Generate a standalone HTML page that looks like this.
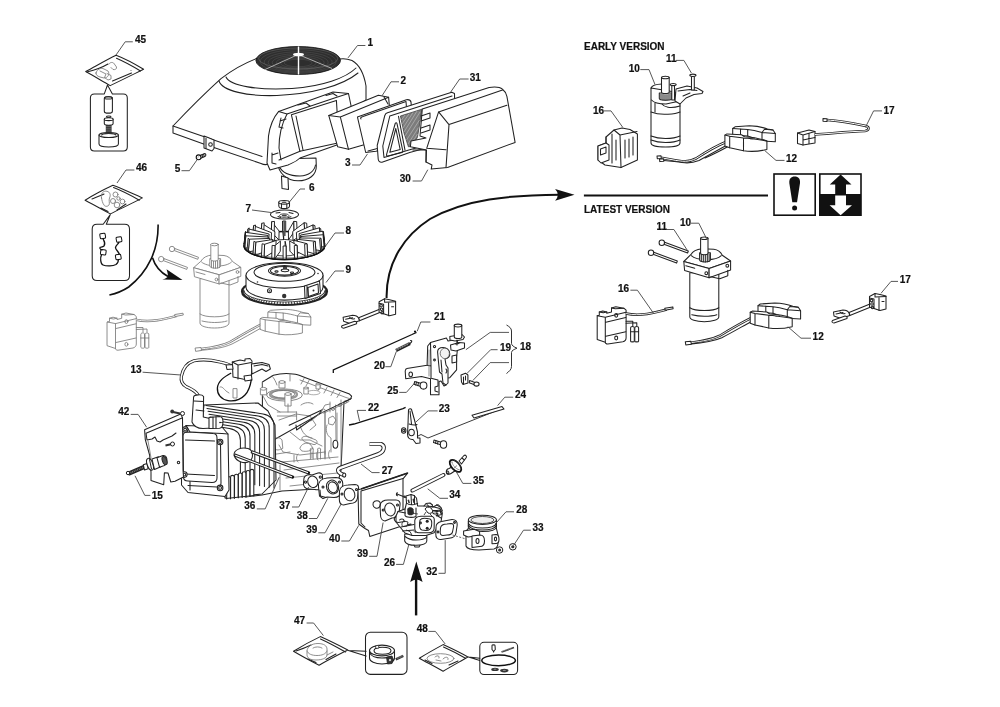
<!DOCTYPE html>
<html><head><meta charset="utf-8"><style>
html,body{margin:0;padding:0;background:#fff;width:1000px;height:707px;overflow:hidden}
svg{display:block;will-change:transform}
.lb text{font-family:"Liberation Sans",sans-serif;font-weight:bold;font-size:10px;fill:#111;stroke:#111;stroke-width:0.2}
.ld polyline{fill:none;stroke:#444;stroke-width:0.9}
.hd{font-family:"Liberation Sans",sans-serif;font-weight:bold;font-size:10.6px;fill:#111;stroke:#111;stroke-width:0.2}
.o{fill:none;stroke:#222;stroke-width:1.05;stroke-linejoin:round;stroke-linecap:round}
.w{fill:#fff;stroke:#222;stroke-width:1.05;stroke-linejoin:round;stroke-linecap:round}
.g{fill:none;stroke:#7a7a7a;stroke-width:0.85;stroke-linejoin:round;stroke-linecap:round}
.gw{fill:#fff;stroke:#7a7a7a;stroke-width:0.85;stroke-linejoin:round;stroke-linecap:round}
.k{fill:#111;stroke:none}
.tg{fill:none;stroke:#7a7a7a;stroke-width:2.4}
.to{fill:none;stroke:#222;stroke-width:2.5}
.tw{fill:none;stroke:#fff;stroke-width:0.9}
</style></head><body>
<svg width="1000" height="707" viewBox="0 0 1000 707">
<g id="arrows">
<path d="M158.1,224.6 C158.5,250 148,272 128.7,287 C122,291.5 116,293.5 109.4,295" fill="none" stroke="#111" stroke-width="1.6"/>
<path d="M152.5,257.7 C155,266 160,272 168,276.5" fill="none" stroke="#111" stroke-width="1.6"/>
<path d="M182.5,280 L166.5,269.2 Q168.5,275 167.5,277 Q165,279 162.3,279.5 Z" fill="#111"/>
<path d="M386.6,298 C386,262 405,235 430,219 C465,199 510,195 560,194.7" fill="none" stroke="#111" stroke-width="2"/>
<path d="M574.5,194.7 L555.1,189 Q560.5,194.7 555.1,200.8 Z" fill="#111"/>
<line x1="583.9" y1="195.5" x2="768" y2="195.5" stroke="#111" stroke-width="1.8"/>
<line x1="416.1" y1="615.4" x2="416.1" y2="575" stroke="#111" stroke-width="2.4"/>
<path d="M416.3,561.5 L410.2,582 Q416.3,577 422.6,582 Z" fill="#111"/>
</g>
<g id="warn">
<rect x="774" y="174" width="41.2" height="41.2" fill="#fff" stroke="#111" stroke-width="1.6"/>
<path d="M794.7,176.6 C798.5,176.6 800.3,179 800,183 L797,202.3 L792.3,202.3 L789.3,183 C789,179 791,176.6 794.7,176.6 Z" fill="#111"/>
<circle cx="794.6" cy="208" r="2.5" fill="#111"/>
<rect x="819.8" y="174" width="41.2" height="41.2" fill="#fff" stroke="#111" stroke-width="1.6"/>
<rect x="819.8" y="194" width="41.2" height="21.2" fill="#111"/>
<path d="M840.6,174.5 L851.5,184.5 L846,184.5 L846,194.5 L835.2,194.5 L835.2,184.5 L829.8,184.5 Z" fill="#111"/>
<path d="M835.2,195.4 L846,195.4 L846,205.3 L852,205.3 L840.6,215.3 L829.6,205.3 L835.2,205.3 Z" fill="#fff"/>
</g>
<text class="hd" x="584" y="49.5" textLength="80.6" lengthAdjust="spacingAndGlyphs">EARLY VERSION</text>
<text class="hd" x="584" y="213.3" textLength="86" lengthAdjust="spacingAndGlyphs">LATEST VERSION</text>
<g id="bag45">
<path class="w" d="M85.7,71.5 C96,66 106,60 116.1,55.2 C126,59 135,64 143.6,69.3 C132,75 121,80.5 110.2,85.6 C102,81 94,76 85.7,71.5 Z"/>
<path class="o" d="M116.5,58.3 C125,62 133,66.5 140.5,71"/>
<path class="o" d="M87,72 C95,70 103,67 108,64" stroke-width="0.6"/>
<path class="g" d="M96,73 C97,69 101,67.5 104,69 L108,71 C110,74 108,78 104,78 L100,77 C97,76 96,75 96,73 Z"/>
<path class="g" d="M100,71 L106,74 L104.5,77.5 L108,80 L111,79 L111,75.5 L107,73.5"/>
<path class="g" d="M109,64 C110,62 113,62 114,63.5 L116.5,67 C117,69 115,70 113,69.5 L111,67.5"/>
<path class="o" d="M112.5,81 L131.5,73" stroke-width="0.5"/>
<circle cx="131" cy="70.5" r="0.5" fill="#444"/>
<path class="o" d="M104.3,93.9 L107.5,85 L112.4,93.9 L123.3,93.9 Q127.3,93.9 127.3,97.9 L127.3,146.9 Q127.3,150.9 123.3,150.9 L94.4,150.9 Q90.4,150.9 90.4,146.9 L90.4,97.9 Q90.4,93.9 94.4,93.9 Z"/>
<rect class="w" x="104.3" y="96.8" width="8.1" height="16.3" rx="2" ry="2"/>
<ellipse class="o" cx="108.4" cy="97.9" rx="3.9" ry="1.1"/>
<ellipse class="o" cx="108.7" cy="116.8" rx="2.3" ry="0.8"/>
<path class="w" d="M104.3,119.2 L104.3,123.5 C104.3,124.5 106,125.2 108.7,125.2 C111.5,125.2 113.1,124.5 113.1,123.5 L113.1,119.2 Z"/>
<ellipse class="w" cx="108.7" cy="119.2" rx="4.4" ry="1.4"/>
<rect x="105.8" y="125" width="5.8" height="8" fill="#333"/>
<path d="M105.8,126.5 L111.6,126.5 M105.8,128.3 L111.6,128.3 M105.8,130.1 L111.6,130.1 M105.8,131.9 L111.6,131.9" stroke="#aaa" stroke-width="0.4"/>
<path class="w" d="M99,135 L99,144 C99,146 103.5,147 108.7,147 C114,147 118.4,146 118.4,144 L118.4,135 Z"/>
<ellipse class="w" cx="108.7" cy="135" rx="9.7" ry="2.6"/>
<path d="M101.5,135.5 C101.5,134 104,133.3 108.7,133.3 C113.5,133.3 116,134 116,135.5" fill="none" stroke="#333" stroke-width="1.2"/>
</g>
<g id="bag46">
<path class="w" d="M85.1,200.2 C95,194 104,189.5 112.9,185.3 C123,189 133,194 142.4,197.9 C132,203.5 121,208.5 110.3,213.9 C101,209 93,204.5 85.1,200.2 Z"/>
<path class="o" d="M113.5,187.6 C122.5,191 131,195.5 139.3,200.3"/>
<path class="o" d="M92,199 C97,197 101,195.5 104,194" stroke-width="0.6"/>
<path class="o" d="M101,208 L108,211.5 M117,210 L126,204" stroke-width="0.6"/>
<g class="g">
<path d="M101.5,198 C100.5,192.5 104,190.5 107,191.3 C110,192 111,195 109.5,198 C108.5,200.5 110,203 109,205 C107.5,207 104.5,206.5 104,205 C102.5,203 102,200.5 101.5,198 Z"/>
<circle cx="115.5" cy="194.5" r="2.5"/><circle cx="113" cy="201" r="2.5"/><circle cx="117" cy="205" r="2.8"/><circle cx="122.5" cy="201.5" r="2.4"/><circle cx="118.5" cy="198.5" r="1.7"/>
</g>
<path class="o" d="M103.2,224.2 L110.3,214.6 L106.3,224.2 L124.7,224.2 Q129.5,224.2 129.5,229 L129.5,275.7 Q129.5,280.5 124.7,280.5 L97,280.5 Q92.2,280.5 92.2,275.7 L92.2,229 Q92.2,224.2 97,224.2 Z" stroke-width="0.9"/>
<g fill="#fff" stroke="#111" stroke-width="1">
<rect x="100" y="233.5" width="5.4" height="5" rx="1" transform="rotate(-10 102.7 236)"/>
<rect x="116.3" y="237" width="5.4" height="5" rx="1" transform="rotate(-10 119 239.5)"/>
<rect x="100.6" y="249.8" width="5.4" height="5" rx="1" transform="rotate(8 103.3 252.3)"/>
<rect x="115.6" y="254.5" width="5.4" height="5" rx="1" transform="rotate(-10 118.3 257)"/>
</g>
<path d="M103,238.8 C104,241 106,243 104,246 C102,248 99.5,246 100,248.5 C100.5,249.5 101.5,249.8 102.5,250" fill="none" stroke="#111" stroke-width="1.3"/>
<path d="M119,242 C118.5,244 116,245 115.5,247.5 C115.5,250 118,250.5 119.5,254.5" fill="none" stroke="#111" stroke-width="1.3"/>
<path d="M101.5,254.8 C100,258 100.5,264 103,265 C107,266.5 113,266 116,264.5 C118,263 118.5,261 118.2,259.5" fill="none" stroke="#111" stroke-width="1.3"/>

</g>
<g id="leftstarter" class="gs">
<!-- bolts -->
<path class="gw" d="M173.5,248 L198.5,257.3 L197.8,259.3 L172.8,250 Z"/>
<circle class="gw" cx="172" cy="249" r="2.7"/>
<path class="gw" d="M162.7,258.1 L187.5,267.4 L186.8,269.4 L162,260.1 Z"/>
<circle class="gw" cx="161.2" cy="259.1" r="2.7"/>
<!-- body -->
<path class="gw" d="M200,279 L200,323 C200,326 206,328 214.5,328 C223,328 229,326 229,323 L229,279 Z"/>
<path class="g" d="M200,314 C203,316 208,316.8 214.5,316.8 C221,316.8 226,316 229,314"/>
<path class="g" d="M202,321 C206,322 211,322.5 214.5,322.5 C219,322.5 224,322 227,321"/>
<!-- flange -->
<path class="gw" d="M201,261 C203,257.5 207,255.5 212,255 L224,255.5 C228,256 231,258.5 232.5,261.5 L240.8,267.3 L219.3,274.8 L194,267.8 Z"/>
<path class="g" d="M201.5,262 C204,264.5 210,266 217,266 C224,266 229,264.5 231.5,262"/>
<path class="gw" d="M194,267.8 L219.3,274.8 L219.3,284 L194.8,276.8 Z"/>
<path class="gw" d="M219.3,274.8 L240.8,267.3 L240.8,276.3 L219.3,284 Z"/>
<circle class="g" cx="216.5" cy="279.5" r="1.4"/><circle class="g" cx="237.5" cy="272" r="1.4"/>
<path class="g" d="M196,272 L205,274.5 M221,283 L230,285 L238,282 L238,276.5"/>
<!-- gear & shaft -->
<path class="gw" d="M209.8,259 L209.8,266 C209.8,267.5 212.5,268.2 215.2,268.2 C218,268.2 220.6,267.5 220.6,266 L220.6,259 Z"/>
<path class="g" d="M211.5,260 L211.5,267.5 M213.5,260.5 L213.5,268 M215.5,260.5 L215.5,268.2 M217.5,260.5 L217.5,268 M219.3,260 L219.3,267.5"/>
<path class="gw" d="M210.8,244.5 L210.8,259.5 C210.8,260.5 212.5,261 214.5,261 C216.5,261 218.2,260.5 218.2,259.5 L218.2,244.5 Z"/>
<ellipse class="gw" cx="214.5" cy="244.5" rx="3.7" ry="1.3"/>
</g>
<g id="leftreg">
<path class="gw" d="M107.4,322 L109.5,321.5 L109.5,318.2 L113,317.2 L117,318.2 L117,319.5 L121.7,318.3 L121.7,314.2 L126,313 L134,314.5 L136.3,316.5 L136.3,344 C136.3,346 135,347.5 133,348 L118,350.2 C116.5,350.4 115.5,349.5 115.5,348.5 L107.4,345.8 Z"/>
<path class="g" d="M115.5,323.6 L115.5,348.5 M107.4,322 L115.5,323.6 L136.3,318.6 M116,328.5 L136,323.8 M116,342.5 L136,338 M109.5,318.2 L113.5,319 L117,318.2 M121.7,314.2 L125.5,315 L134,314.5"/>
<ellipse class="g" cx="126.4" cy="321.6" rx="1.5" ry="1.9"/><ellipse class="g" cx="126.4" cy="344.3" rx="1.5" ry="1.9"/>
<path class="tg" d="M136.3,319.8 C150,323 165,319 177,315.8"/><path class="tw" d="M136.3,319.8 C150,323 165,319 177,315.8"/>
<path class="gw" d="M175,314.5 L183,313.2 L183.3,315 L175.3,316.5 Z"/>
<path class="g" d="M136.3,327.5 L143,327.5 L143,332 M136.3,329.5 L147,329 L147,332"/>
<path class="gw" d="M140.8,334 C140.8,332.5 144.5,332.5 144.5,334 L144.5,347.5 C144.5,348.5 140.8,348.5 140.8,347.5 Z"/>
<path class="gw" d="M145,334 C145,332.5 148.8,332.5 148.8,334 L148.8,347.5 C148.8,348.5 145,348.5 145,347.5 Z"/>
<path class="g" d="M140.8,338 L144.5,338 M145,338 L148.8,338"/>
</g>
<g id="leftign">
<path class="tg" d="M262,324 C250,330 240,336 230,342 C220,347 208,348 197,349.5"/><path class="tw" d="M262,324 C250,330 240,336 230,342 C220,347 208,348 197,349.5"/>
<path class="g" d="M263,327 C252,333 242,339 232,344 C222,348.5 210,349.5 199,350.5"/>
<path class="gw" d="M195.5,348 L201,347.5 L201.5,350.5 L196,351.3 Z"/>
<path class="gw" d="M268.2,312 L270.5,310.3 L285,309.3 C292,309.5 299,311 303,312.5 L308.5,313.5 L310.8,317 L310.8,325.2 L297.5,324.5 L283.2,319.5 L268.2,318.5 Z"/>
<path class="g" d="M268.2,312 L283.2,313 L283.2,319.5 M283.2,313 C288,313.5 294,315 297.5,316 L297.5,324.5 M297.5,316 L310.8,317 M297.5,316 L300,312.8 L308.5,313.5 M276,312.5 L276,318.5"/>
<path class="gw" d="M260.4,318.6 L262.5,317.4 L277,318.3 L280,320.3 C287,320.5 296,322 302.4,324.5 L302.4,333 C296,334.5 287,335.5 279,334.2 L265.2,331.2 L260.4,329.5 Z"/>
<path class="g" d="M260.4,318.6 L265.2,319.8 L279,321.5 L279,334.2 M265.2,319.8 L265.2,331.2 M279,321.5 C287,322 296,323.5 302.4,324.5 M286,322.5 L290,322.3"/>
</g>
<g id="housing">
<path class="w" d="M173,126 L173,133 L205,144.5 L261,163.5 Q266,166 271,163 L366,100 L366,86 C364,74 360,65 352,60.5 C348,59 344,58.5 340,59 L256.5,58.5 C245,63 232,70 221,78.6 C205,93 190,108 173,126 Z"/>
<path class="o" d="M173,126 L205,137 L262,156.5"/>
<path class="o" d="M219,81 C222,91 248,96.5 277,95.5 C312,94 342,86 358,73"/>
<path class="o" d="M226,77 C230,86 258,90.5 292,88.5 C322,86.5 346,78 356,68"/>
<ellipse cx="298.2" cy="60.5" rx="42.3" ry="14" fill="#2e2e2e" stroke="#111" stroke-width="0.8"/>
<g stroke="#5a5a5a" stroke-width="0.45" fill="none">
<ellipse cx="298.2" cy="61.5" rx="38" ry="11.8"/>
<ellipse cx="298.2" cy="62" rx="34" ry="10.2"/>
<ellipse cx="298.2" cy="62.4" rx="30" ry="8.8"/>
<ellipse cx="298.2" cy="62.6" rx="26" ry="7.4"/>
<ellipse cx="298.2" cy="62.8" rx="22" ry="6.2"/>
<ellipse cx="298.2" cy="63" rx="18" ry="5"/>
<ellipse cx="298.2" cy="63" rx="14" ry="3.8"/>
</g>
<g stroke="#777" stroke-width="0.5" fill="none">
<ellipse cx="298.2" cy="58.5" rx="39.5" ry="10.5"/>
</g>
<path d="M298.2,54.5 L265,69.5 M298.2,54.5 L332,68.5" stroke="#ddd" stroke-width="0.7"/>
<line x1="298.5" y1="46.5" x2="298.5" y2="74.5" stroke="#fff" stroke-width="1.4"/>
<ellipse cx="298.5" cy="54.5" rx="5.5" ry="1.8" fill="#fff"/>
<path class="w" d="M204,136 L204,148 L212,151 L214,148.5 L214,140 L208,137.6 Z"/>
<path class="o" d="M206,138 L206,148.5"/>
<circle cx="210.5" cy="144.5" r="1.8" class="o"/>
</g>
<g id="filterbase">
<!-- base plate ellipse -->
<path class="w" d="M278,163 C278,173 287,180.5 298,180.8 C309,180.8 316.5,175 316.3,166 L316,158 L280,159 Z"/>
<path class="o" d="M279,166 C282,172.5 290,176 300,176 C309,175.5 314.5,171 315.5,165"/>
<!-- hook below -->
<path class="w" d="M281.5,176 L282,188.5 L288.5,189.5 L288,178 Z"/>
<!-- frame outer -->
<path class="w" d="M278.7,111.4 L333,92 L348.5,93.6 L351,105.5 L351,140 L300,158 C296,162 292,163 288,165 L270,170 L267,163 L268.5,136 C270,125 273,118 278.7,111.4 Z"/>
<path class="o" d="M278.7,111.4 L287,114 L336,97.6 L348.5,93.6"/>
<path class="o" d="M287,114 C281,125 279,135 279,148 L281,160"/>
<path class="w" d="M291.4,114.8 L336.4,100.4 L339,142.8 L299.9,151.3 Z"/>
<path class="o" d="M296,116 L303,150"/>
<path class="o" d="M279,160 L300,151.3 M339,142.8 L351,139"/>
<!-- clips -->
<path class="o" d="M281,118 L279,127 L283,128 M280,121 L286,119"/>
<path class="o" d="M272,153 L272,163 L276,164 M272,155 L278,153"/>
<path class="o" d="M298,105 L306,103 L310,106 M326,95.5 L333,93.5 L337,96"/>
</g>
<g id="block2">
<path class="w" d="M328.8,115.6 L378.4,95.3 L388.6,97.2 L392,136 L363.2,144.9 L348.5,149.3 L337.7,146.8 Z"/>
<path class="o" d="M328.8,115.6 L340.3,116.9 L388.6,97.2 M340.3,116.9 L348.5,149.3"/>
<path class="o" d="M384,97 L388,104"/>
</g>
<g id="panel3">
<path class="w" d="M357.4,116.9 L406.4,99.7 C409,99.3 410.5,100 411,102 L414,142 L375.9,151.2 L365.7,152.5 Z"/>
<path class="o" d="M361,119 C360,118 361,117 363,116.5 L406,101.5 L409,140 L368,151"/>
</g>
<g id="frame31">
<path class="w" d="M387.5,112.8 L451.7,92.2 L454.5,93.5 L455,140 L409.7,152.5 L382,162.2 C379.5,162.5 378.3,161 378.2,159 L377.2,145.5 L384.8,115.5 C385.3,114 386.2,113.2 387.5,112.8 Z"/>
<path class="o" d="M389.8,116 L452,96 M389.8,116 L382.8,146 L384,157.5 L408,150.3 L453,137.5"/>
<path class="o" d="M395.2,123.5 C395.8,122.5 396.6,122.5 397,123.6 L402.8,150.8 C403,152 402.2,152.6 401,152.8 L388,155.9 C386.8,156.1 386.3,155.3 386.6,154.3 Z"/>
<path class="o" d="M395.8,128.5 L400.2,149.6 L389.8,152.3 Z"/>
<path class="o" d="M398.5,116.3 L405,150.2"/>
<path d="M400.4,116 L421.9,109.2 L420.5,118 L419.5,125 L418.5,131 L417.5,137 L414.5,143 L411,146.5 L408.4,146.8 L404,133 Z" fill="#7c7c7c" stroke="#333" stroke-width="0.7"/>
<g stroke="#d0d0d0" stroke-width="0.5">
<path d="M401.5,120 L405,115 M402,124 L409,113.8 M403,128 L413,112.5 M404,132 L417,111 M405,136 L420,112 M406.5,140 L419.5,120 M408,144 L418.5,127.5 M410.5,145 L417.5,134"/>
</g>
</g>
<g id="cover30">
<path class="w" d="M422.3,109 L489.1,87.4 C495,86.5 500,87 502.5,89.2 C505,91 506,93 506.9,96.3 L515.1,142.4 L447.5,167.6 L431.2,169.1 L432,165 L426,162 L426.5,150 L410.4,146.8 L411,141 L426,138 L420,136 Z"/>
<path class="o" d="M438.6,111.9 L502.5,90 M449,124.6 L506.9,105.2 M438.6,111.9 L449,124.6 L446,167.6 M438.6,111.9 L426.7,148.3 L446,149.8"/>
<path class="o" d="M421,116 L430,113 L430,118 L421,121 M421,128 L430,125 L430,130 L421,133"/>
<path class="o" d="M413,150 L426,150 L426,162"/>
</g>
<g id="screw5">
<path class="w" d="M200,155.5 L204.8,153.6 C206,153.6 206.2,155.6 205.2,156.3 L200.8,158.2 Z"/>
<path class="o" d="M202,154.8 L202.8,157.2 M203.6,154.2 L204.3,156.6" stroke-width="0.6"/>
<circle cx="198.6" cy="157.3" r="2.4" fill="#fff" stroke="#111" stroke-width="1.1"/>
<path d="M197.8,157.8 L199,156.2" stroke="#666" stroke-width="0.6"/>
</g>
<g id="nut6">
<path class="w" d="M278.8,202.5 L278.8,206 C279,208 282,208.6 284,208.6 C287,208.6 289.5,208 289.5,206 L289.5,202.5 Z"/>
<ellipse class="w" cx="284.1" cy="202.3" rx="5.4" ry="1.9"/>
<ellipse cx="284.1" cy="202.3" rx="2.5" ry="0.9" fill="#555"/>
<path class="o" d="M281.5,203.5 L281.5,208 M286.8,203.8 L286.8,208.2"/>
</g>
<g id="washer7"><ellipse class="w" cx="284.5" cy="214.5" rx="14" ry="4.6"/>
<ellipse cx="284.2" cy="215.6" rx="4.7" ry="1.8" fill="#fff" stroke="#222" stroke-width="0.8"/>
<ellipse cx="284.3" cy="215.5" rx="2.6" ry="1" fill="#444"/>
<path class="o" d="M276,213 L280,212.5 M289,212.5 L293,213.5 M278,216.5 L280.5,217.5 M288,217.6 L291,216.8"/></g>
<g id="fan8" stroke-width="1">
<ellipse cx="284.4" cy="245.5" rx="40.5" ry="14.0" fill="#fff" stroke="#111" stroke-width="1.3"/>
<ellipse cx="284.4" cy="246.0" rx="17" ry="6.5" fill="#fff" stroke="#222" stroke-width="0.9"/>
<path d="M267.4,246.0 L267.4,249.5 A17,6.5 0 0 0 301.4,249.5 L301.4,246.0" fill="#fff" stroke="#222" stroke-width="0.8"/>
<polygon points="283.7,239.6 282.7,231.5 282.7,221.0 283.7,230.8" fill="#fff" stroke="#111" stroke-width="0.9" stroke-linejoin="round"/>
<polygon points="282.7,231.5 285.7,231.5 285.7,221.0 282.7,221.0" fill="#fff" stroke="#111" stroke-width="0.9" stroke-linejoin="round"/>
<polygon points="288.5,239.8 294.1,231.9 293.8,221.4 288.4,230.9" fill="#fff" stroke="#111" stroke-width="0.9" stroke-linejoin="round"/>
<polygon points="294.1,231.9 297.1,232.2 296.7,221.6 293.8,221.4" fill="#fff" stroke="#111" stroke-width="0.9" stroke-linejoin="round"/>
<polygon points="278.9,239.9 271.3,232.2 271.7,221.7 279.1,231.0" fill="#fff" stroke="#111" stroke-width="0.9" stroke-linejoin="round"/>
<polygon points="271.3,232.2 274.2,231.9 274.5,221.4 271.7,221.7" fill="#fff" stroke="#111" stroke-width="0.9" stroke-linejoin="round"/>
<polygon points="293.0,240.4 304.8,233.4 304.2,222.7 292.7,231.5" fill="#fff" stroke="#111" stroke-width="0.9" stroke-linejoin="round"/>
<polygon points="304.8,233.4 307.4,234.0 306.7,223.2 304.2,222.7" fill="#fff" stroke="#111" stroke-width="0.9" stroke-linejoin="round"/>
<polygon points="274.6,240.7 261.1,234.1 261.8,223.3 274.9,231.7" fill="#fff" stroke="#111" stroke-width="0.9" stroke-linejoin="round"/>
<polygon points="261.1,234.1 263.6,233.5 264.2,222.8 261.8,223.3" fill="#fff" stroke="#111" stroke-width="0.9" stroke-linejoin="round"/>
<polygon points="296.8,241.5 313.8,235.9 313.0,224.9 296.4,232.4" fill="#fff" stroke="#111" stroke-width="0.9" stroke-linejoin="round"/>
<polygon points="313.8,235.9 315.8,236.7 314.9,225.6 313.0,224.9" fill="#fff" stroke="#111" stroke-width="0.9" stroke-linejoin="round"/>
<polygon points="271.1,241.8 252.7,236.8 253.6,225.7 271.5,232.7" fill="#fff" stroke="#111" stroke-width="0.9" stroke-linejoin="round"/>
<polygon points="252.7,236.8 254.7,236.0 255.5,225.0 253.6,225.7" fill="#fff" stroke="#111" stroke-width="0.9" stroke-linejoin="round"/>
<polygon points="299.6,242.8 320.5,239.1 319.4,227.8 299.1,233.6" fill="#fff" stroke="#111" stroke-width="0.9" stroke-linejoin="round"/>
<polygon points="320.5,239.1 321.8,240.1 320.7,228.7 319.4,227.8" fill="#fff" stroke="#111" stroke-width="0.9" stroke-linejoin="round"/>
<polygon points="268.6,243.3 246.9,240.2 248.0,228.8 269.1,234.0" fill="#fff" stroke="#111" stroke-width="0.9" stroke-linejoin="round"/>
<polygon points="246.9,240.2 248.1,239.3 249.2,227.9 248.0,228.8" fill="#fff" stroke="#111" stroke-width="0.9" stroke-linejoin="round"/>
<polygon points="301.1,244.4 324.2,242.9 323.0,231.2 300.6,235.0" fill="#fff" stroke="#111" stroke-width="0.9" stroke-linejoin="round"/>
<polygon points="324.2,242.9 324.7,244.0 323.5,232.1 323.0,231.2" fill="#fff" stroke="#111" stroke-width="0.9" stroke-linejoin="round"/>
<polygon points="267.5,244.9 244.1,244.1 245.3,232.3 268.0,235.5" fill="#fff" stroke="#111" stroke-width="0.9" stroke-linejoin="round"/>
<polygon points="244.1,244.1 244.5,243.1 245.7,231.3 245.3,232.3" fill="#fff" stroke="#111" stroke-width="0.9" stroke-linejoin="round"/>
<polygon points="301.3,246.1 324.7,246.9 323.5,234.7 300.8,236.5" fill="#fff" stroke="#111" stroke-width="0.9" stroke-linejoin="round"/>
<polygon points="324.7,246.9 324.3,247.9 323.1,235.7 323.5,234.7" fill="#fff" stroke="#111" stroke-width="0.9" stroke-linejoin="round"/>
<polygon points="267.7,246.6 244.6,248.1 245.8,235.8 268.2,237.0" fill="#fff" stroke="#111" stroke-width="0.9" stroke-linejoin="round"/>
<polygon points="244.6,248.1 244.1,247.0 245.3,234.9 245.8,235.8" fill="#fff" stroke="#111" stroke-width="0.9" stroke-linejoin="round"/>
<polygon points="300.2,247.7 321.9,250.8 320.8,238.2 299.7,238.0" fill="#fff" stroke="#111" stroke-width="0.9" stroke-linejoin="round"/>
<polygon points="321.9,250.8 320.7,251.7 319.6,239.1 320.8,238.2" fill="#fff" stroke="#111" stroke-width="0.9" stroke-linejoin="round"/>
<polygon points="269.2,248.2 248.3,251.9 249.4,239.2 269.7,238.4" fill="#fff" stroke="#111" stroke-width="0.9" stroke-linejoin="round"/>
<polygon points="248.3,251.9 247.0,250.9 248.1,238.3 249.4,239.2" fill="#fff" stroke="#111" stroke-width="0.9" stroke-linejoin="round"/>
<polygon points="297.7,249.2 316.1,254.2 315.2,241.3 297.3,239.3" fill="#fff" stroke="#111" stroke-width="0.9" stroke-linejoin="round"/>
<polygon points="316.1,254.2 314.1,255.0 313.3,242.0 315.2,241.3" fill="#fff" stroke="#111" stroke-width="0.9" stroke-linejoin="round"/>
<polygon points="272.0,249.5 255.0,255.1 255.8,242.1 272.4,239.6" fill="#fff" stroke="#111" stroke-width="0.9" stroke-linejoin="round"/>
<polygon points="255.0,255.1 253.0,254.3 253.9,241.4 255.8,242.1" fill="#fff" stroke="#111" stroke-width="0.9" stroke-linejoin="round"/>
<polygon points="294.2,250.3 307.7,256.9 307.0,243.7 293.9,240.3" fill="#fff" stroke="#111" stroke-width="0.9" stroke-linejoin="round"/>
<polygon points="307.7,256.9 305.2,257.5 304.6,244.2 307.0,243.7" fill="#fff" stroke="#111" stroke-width="0.9" stroke-linejoin="round"/>
<polygon points="275.8,250.6 264.0,257.6 264.6,244.3 276.1,240.5" fill="#fff" stroke="#111" stroke-width="0.9" stroke-linejoin="round"/>
<polygon points="264.0,257.6 261.4,257.0 262.1,243.8 264.6,244.3" fill="#fff" stroke="#111" stroke-width="0.9" stroke-linejoin="round"/>
<polygon points="289.9,251.1 297.5,258.8 297.1,245.3 289.7,241.0" fill="#fff" stroke="#111" stroke-width="0.9" stroke-linejoin="round"/>
<polygon points="297.5,258.8 294.6,259.1 294.3,245.6 297.1,245.3" fill="#fff" stroke="#111" stroke-width="0.9" stroke-linejoin="round"/>
<polygon points="280.3,251.2 274.7,259.1 275.0,245.6 280.4,241.1" fill="#fff" stroke="#111" stroke-width="0.9" stroke-linejoin="round"/>
<polygon points="274.7,259.1 271.7,258.8 272.1,245.4 275.0,245.6" fill="#fff" stroke="#111" stroke-width="0.9" stroke-linejoin="round"/>
<polygon points="285.1,251.4 286.1,259.5 286.1,246.0 285.1,241.2" fill="#fff" stroke="#111" stroke-width="0.9" stroke-linejoin="round"/>
<polygon points="286.1,259.5 283.1,259.5 283.1,246.0 286.1,246.0" fill="#fff" stroke="#111" stroke-width="0.9" stroke-linejoin="round"/>
<path d="M243.89999999999998,245.5 A40.5,14.0 0 0 0 324.9,245.5" fill="none" stroke="#111" stroke-width="1.4"/>
<path d="M244.49999999999997,244.3 A39.9,13.7 0 0 0 324.29999999999995,244.3" fill="none" stroke="#333" stroke-width="0.6"/>
<path d="M284.5,221 L284.5,236" stroke="#555" stroke-width="2.2"/>
</g>
<g id="fly9">
<ellipse cx="284.5" cy="291.5" rx="42.5" ry="13.5" fill="#fff" stroke="#222" stroke-width="2.2"/>
<path d="M327.0,291.5 L324.8,290.3 M326.9,292.4 L324.7,291.1 M326.6,293.4 L324.4,291.9 M326.1,294.3 L323.9,292.7 M325.4,295.2 L323.2,293.5 M324.4,296.1 L322.4,294.3 M323.3,297.0 L321.3,295.1 M322.0,297.8 L320.1,295.8 M320.5,298.7 L318.7,296.5 M318.9,299.4 L317.1,297.2 M317.1,300.2 L315.4,297.8 M315.1,300.9 L313.5,298.4 M312.9,301.5 L311.5,299.0 M310.7,302.1 L309.3,299.5 M308.3,302.7 L307.0,300.0 M305.8,303.2 L304.6,300.4 M303.1,303.6 L302.2,300.8 M300.4,304.0 L299.6,301.1 M297.6,304.3 L297.0,301.4 M294.8,304.6 L294.2,301.7 M291.9,304.8 L291.5,301.8 M288.9,304.9 L288.7,301.9 M286.0,305.0 L285.9,302.0 M283.0,305.0 L283.1,302.0 M280.1,304.9 L280.3,301.9 M277.1,304.8 L277.5,301.8 M274.2,304.6 L274.8,301.7 M271.4,304.3 L272.0,301.4 M268.6,304.0 L269.4,301.1 M265.9,303.6 L266.8,300.8 M263.2,303.2 L264.4,300.4 M260.7,302.7 L262.0,300.0 M258.3,302.1 L259.7,299.5 M256.1,301.5 L257.5,299.0 M253.9,300.9 L255.5,298.4 M251.9,300.2 L253.6,297.8 M250.1,299.4 L251.9,297.2 M248.5,298.7 L250.3,296.5 M247.0,297.8 L248.9,295.8 M245.7,297.0 L247.7,295.1 M244.6,296.1 L246.6,294.3 M243.6,295.2 L245.8,293.5 M242.9,294.3 L245.1,292.7 M242.4,293.4 L244.6,291.9 M242.1,292.4 L244.3,291.1 M242.0,291.5 L244.2,290.3" stroke="#222" stroke-width="0.9" fill="none"/>
<path d="M244.0,290.5 A40.5,11.5 0 0 0 325.0,290.5" stroke="#222" stroke-width="0.8" fill="none"/>
<path class="w" d="M246.0,275.3 L246.0,287.3 A38.5,12.8 0 0 0 323.0,287.3 L323.0,275.3 Z"/>
<ellipse class="w" cx="284.5" cy="275.3" rx="38.5" ry="12.8"/>
<ellipse class="o" cx="284.5" cy="272.3" rx="30.5" ry="9"/>
<ellipse class="o" cx="284.5" cy="270.8" rx="16" ry="5.3"/>
<ellipse class="o" cx="284.5" cy="270.8" rx="14" ry="4.3"/>
<ellipse class="o" cx="285.0" cy="270.3" rx="3.8" ry="1.4"/>
<ellipse class="o" cx="276.5" cy="271.5" rx="1.6" ry="0.8"/>
<ellipse class="o" cx="292" cy="272.8" rx="1.6" ry="0.8"/>
<ellipse class="o" cx="285" cy="268" rx="1.6" ry="0.8"/>
<circle cx="257.5" cy="282" r="0.8" fill="#333"/><circle cx="318" cy="273.5" r="0.8" fill="#333"/>
<path class="w" d="M304.5,286 L319.5,281 L320.5,293.5 L305,298.5 Z"/>
<path class="o" d="M307,286 L307,297.5 M308,287.5 L318,284 L318.5,293 L308.5,296.5 Z"/>
<circle cx="313.5" cy="290.5" r="1" fill="#222"/>
<circle cx="269.5" cy="290.8" r="2" class="o"/><circle cx="269.5" cy="290.8" r="0.9" fill="#555"/>
<circle cx="284.2" cy="296" r="2.2" fill="#333"/>
</g><g id="early">
<!-- starter body -->
<path class="w" d="M651,88 L651,143 C651,145.5 657,147 665.5,147 C674,147 680,145.5 680,143 L680,100 L675,92 Z"/>
<path class="o" d="M651,88 C652,85.5 656,84.2 662,84 M651.5,100 C654,103 660,104 666,104 L680,101"/>
<path class="o" d="M651,112 C656,114 664,114.5 668,114.2 C673,114 677,113.5 680,112"/>
<path class="o" d="M651,136 C656,138 662,138.5 665.5,138.5 C671,138.5 676,138 680,136"/>
<path class="o" d="M651,140 C656,142 662,142.5 665.5,142.5 C671,142.5 676,142 680,140"/>
<path class="o" d="M655,103 L655,112 M662,104 C664,107 670,109 680,106"/>
<!-- bracket flange -->
<path class="w" d="M676,89 L687,86 L697,88 L703,91.5 L702,93.5 L694,94.5 L686,98 L680,104 L675,101 Z"/>
<path class="o" d="M678,91 L690,89.5 L697,90.5 M683,96 L690,93"/>
<!-- gear -->
<path class="w" d="M659.3,93 L659.3,98.5 C659.3,99.6 662,100.2 665.6,100.2 C669,100.2 672,99.6 672,98.5 L672,93 Z"/>
<path class="o" d="M661,94 L661,99.5 M663,94.3 L663,100 M665,94.4 L665,100.1 M667,94.4 L667,100 M669,94.3 L669,99.8 M671,94 L671,99.4" stroke-width="0.6"/>
<!-- shaft -->
<path class="w" d="M661.5,77.5 L661.5,92 C661.5,93 663.3,93.5 665.3,93.5 C667.3,93.5 669.2,93 669.2,92 L669.2,77.5 Z"/>
<ellipse class="w" cx="665.35" cy="77.5" rx="3.85" ry="1.3"/>
<!-- bolts -->
<path class="w" d="M671.8,85 L671.8,100 L674.5,100 L674.5,85 Z"/>
<ellipse class="w" cx="673.2" cy="84.5" rx="3" ry="1.1"/>
<path class="w" d="M691.5,76 L691.5,90 L694.3,90 L694.3,76 Z"/>
<ellipse class="w" cx="692.9" cy="75.3" rx="3.1" ry="1.2"/>
<!-- regulator 16 -->
<path class="w" d="M606,137 L614,130 L622,128 L630,129.5 L637.4,134 L637.4,160 L621,167.6 L605,165 L598,160 L598,146 L606,143 Z"/>
<path class="o" d="M606,137 L606,160 M612,134 L612,163 M614,130 L620,135 L637,131.5 M620,135 L621,167.6 M625,140 L625,158 M629,139 L629,157 M633,137 L633,155 M616,140 L616,160"/>
<path class="w" d="M598,146 L606,143 L609,145 L609,160 L601,163 L598,160 Z"/>
<path class="o" d="M600.5,149 L606,147 L606,153 L600.5,155 Z"/>
<!-- ignition 12 wires -->
<path d="M727,141.5 C716,146 706,152 696,158.5 C689,162 683,162 671,159.5 L661,157.8" fill="none" stroke="#222" stroke-width="2.6"/>
<path d="M727,141.5 C716,146 706,152 696,158.5 C689,162 683,162 671,159.5 L661,157.8" fill="none" stroke="#fff" stroke-width="1"/>
<path class="o" d="M728,144.5 C718,150 708,155.5 699,160.5 C690,164 684,163 674,161.5 L664,160.5"/>
<path class="o" d="M729,146 C720,151 712,155 705,158"/>
<path class="w" d="M657,156 L661,155.8 L661.3,158.5 L657.3,158.8 Z"/>
<path class="w" d="M659.5,159 L663.5,158.8 L663.8,161.3 L659.8,161.6 Z"/>
<!-- ignition blocks -->
<g transform="translate(464.5,-183.5)">
<path class="w" d="M268.2,312 L270.5,310.3 L285,309.3 C292,309.5 299,311 303,312.5 L308.5,313.5 L310.8,317 L310.8,325.2 L297.5,324.5 L283.2,319.5 L268.2,318.5 Z"/>
<path class="o" d="M268.2,312 L283.2,313 L283.2,319.5 M283.2,313 C288,313.5 294,315 297.5,316 L297.5,324.5 M297.5,316 L310.8,317 M297.5,316 L300,312.8 L308.5,313.5 M276,312.5 L276,318.5"/>
<path class="w" d="M260.4,318.6 L262.5,317.4 L277,318.3 L280,320.3 C287,320.5 296,322 302.4,324.5 L302.4,333 C296,334.5 287,335.5 279,334.2 L265.2,331.2 L260.4,329.5 Z"/>
<path class="o" d="M260.4,318.6 L265.2,319.8 L279,321.5 L279,334.2 M265.2,319.8 L265.2,331.2 M279,321.5 C287,322 296,323.5 302.4,324.5 M286,322.5 L290,322.3"/>
</g>
<!-- connector 17 -->
<path class="w" d="M797.5,133 L809,130 L815,131.5 L815,143 L803,145 L797.5,143.5 Z"/>
<path class="o" d="M797.5,133 L803,135 L815,131.5 M803,135 L803,145 M803,140 L815,137.5 M809,133.5 L809,143.5"/>
<path d="M815,134.5 C830,133.5 850,131.5 865,131 C869.5,130.5 869.5,127 866,126 C850,122.5 836,120.5 827,120" fill="none" stroke="#222" stroke-width="2.6"/>
<path d="M815,134.5 C830,133.5 850,131.5 865,131 C869.5,130.5 869.5,127 866,126 C850,122.5 836,120.5 827,120" fill="none" stroke="#fff" stroke-width="1"/>
<path class="w" d="M823,118.5 L827,118.8 L827,121.5 L823,121.2 Z"/>
</g>
<g transform="translate(489.8,-6.3)">
<g id="latstarter" class="gs">
<!-- bolts -->
<path class="w" d="M173.5,248 L198.5,257.3 L197.8,259.3 L172.8,250 Z"/>
<circle class="w" cx="172" cy="249" r="2.7"/>
<path class="w" d="M162.7,258.1 L187.5,267.4 L186.8,269.4 L162,260.1 Z"/>
<circle class="w" cx="161.2" cy="259.1" r="2.7"/>
<!-- body -->
<path class="w" d="M200,279 L200,323 C200,326 206,328 214.5,328 C223,328 229,326 229,323 L229,279 Z"/>
<path class="o" d="M200,314 C203,316 208,316.8 214.5,316.8 C221,316.8 226,316 229,314"/>
<path class="o" d="M202,321 C206,322 211,322.5 214.5,322.5 C219,322.5 224,322 227,321"/>
<!-- flange -->
<path class="w" d="M201,261 C203,257.5 207,255.5 212,255 L224,255.5 C228,256 231,258.5 232.5,261.5 L240.8,267.3 L219.3,274.8 L194,267.8 Z"/>
<path class="o" d="M201.5,262 C204,264.5 210,266 217,266 C224,266 229,264.5 231.5,262"/>
<path class="w" d="M194,267.8 L219.3,274.8 L219.3,284 L194.8,276.8 Z"/>
<path class="w" d="M219.3,274.8 L240.8,267.3 L240.8,276.3 L219.3,284 Z"/>
<circle class="o" cx="216.5" cy="279.5" r="1.4"/><circle class="o" cx="237.5" cy="272" r="1.4"/>
<path class="o" d="M196,272 L205,274.5 M221,283 L230,285 L238,282 L238,276.5"/>
<!-- gear & shaft -->
<path class="w" d="M209.8,259 L209.8,266 C209.8,267.5 212.5,268.2 215.2,268.2 C218,268.2 220.6,267.5 220.6,266 L220.6,259 Z"/>
<path class="o" d="M211.5,260 L211.5,267.5 M213.5,260.5 L213.5,268 M215.5,260.5 L215.5,268.2 M217.5,260.5 L217.5,268 M219.3,260 L219.3,267.5"/>
<path class="w" d="M210.8,244.5 L210.8,259.5 C210.8,260.5 212.5,261 214.5,261 C216.5,261 218.2,260.5 218.2,259.5 L218.2,244.5 Z"/>
<ellipse class="w" cx="214.5" cy="244.5" rx="3.7" ry="1.3"/>
</g>
<g id="latreg">
<path class="w" d="M107.4,322 L109.5,321.5 L109.5,318.2 L113,317.2 L117,318.2 L117,319.5 L121.7,318.3 L121.7,314.2 L126,313 L134,314.5 L136.3,316.5 L136.3,344 C136.3,346 135,347.5 133,348 L118,350.2 C116.5,350.4 115.5,349.5 115.5,348.5 L107.4,345.8 Z"/>
<path class="o" d="M115.5,323.6 L115.5,348.5 M107.4,322 L115.5,323.6 L136.3,318.6 M116,328.5 L136,323.8 M116,342.5 L136,338 M109.5,318.2 L113.5,319 L117,318.2 M121.7,314.2 L125.5,315 L134,314.5"/>
<ellipse class="o" cx="126.4" cy="321.6" rx="1.5" ry="1.9"/><ellipse class="o" cx="126.4" cy="344.3" rx="1.5" ry="1.9"/>
<path class="to" d="M136.3,319.8 C150,323 165,319 177,315.8"/><path class="tw" d="M136.3,319.8 C150,323 165,319 177,315.8"/>
<path class="w" d="M175,314.5 L183,313.2 L183.3,315 L175.3,316.5 Z"/>
<path class="o" d="M136.3,327.5 L143,327.5 L143,332 M136.3,329.5 L147,329 L147,332"/>
<path class="w" d="M140.8,334 C140.8,332.5 144.5,332.5 144.5,334 L144.5,347.5 C144.5,348.5 140.8,348.5 140.8,347.5 Z"/>
<path class="w" d="M145,334 C145,332.5 148.8,332.5 148.8,334 L148.8,347.5 C148.8,348.5 145,348.5 145,347.5 Z"/>
<path class="o" d="M140.8,338 L144.5,338 M145,338 L148.8,338"/>
</g>
<g id="latign">
<path class="to" d="M262,324 C250,330 240,336 230,342 C220,347 208,348 197,349.5"/><path class="tw" d="M262,324 C250,330 240,336 230,342 C220,347 208,348 197,349.5"/>
<path class="o" d="M263,327 C252,333 242,339 232,344 C222,348.5 210,349.5 199,350.5"/>
<path class="w" d="M195.5,348 L201,347.5 L201.5,350.5 L196,351.3 Z"/>
<path class="w" d="M268.2,312 L270.5,310.3 L285,309.3 C292,309.5 299,311 303,312.5 L308.5,313.5 L310.8,317 L310.8,325.2 L297.5,324.5 L283.2,319.5 L268.2,318.5 Z"/>
<path class="o" d="M268.2,312 L283.2,313 L283.2,319.5 M283.2,313 C288,313.5 294,315 297.5,316 L297.5,324.5 M297.5,316 L310.8,317 M297.5,316 L300,312.8 L308.5,313.5 M276,312.5 L276,318.5"/>
<path class="w" d="M260.4,318.6 L262.5,317.4 L277,318.3 L280,320.3 C287,320.5 296,322 302.4,324.5 L302.4,333 C296,334.5 287,335.5 279,334.2 L265.2,331.2 L260.4,329.5 Z"/>
<path class="o" d="M260.4,318.6 L265.2,319.8 L279,321.5 L279,334.2 M265.2,319.8 L265.2,331.2 M279,321.5 C287,322 296,323.5 302.4,324.5 M286,322.5 L290,322.3"/>
</g>

</g>
<g id="lat17">
<path class="w" d="M849,312.5 L870,304 L870.8,307 L849.8,315.5 Z"/>
<path class="w" d="M869.5,296.5 L875,293.5 L880,294.5 L886,296 L886,309 L880,310.5 L874,308.5 L869.5,307 Z"/>
<path class="o" d="M879,297 L879,310.5 M875,293.5 L875,297 L886,296.5 M882,301.5 L884,301.5 M869.5,298 L874,299 L874,308.5"/>
<circle class="o" cx="871.5" cy="300.5" r="1.3"/><circle class="o" cx="872" cy="304" r="1.3"/><circle class="o" cx="872.5" cy="307.5" r="1.2"/>
<path class="w" d="M833.5,312 L843,310 C846,310 848,311 849,313 L849.8,315.5 L841,318.5 L834,316 Z"/>
<path class="o" d="M836,314 L843,312.5 M840,312 C841,313.5 843,314 845,313.5"/>
<path class="w" d="M832.5,320.5 L845,316 C846.5,316 847.5,317 847,318.5 L834,323 C832,323 831.5,321.5 832.5,320.5 Z"/>
</g>
<g transform="translate(-490.4,5.2)"><g id="mid17">
<path class="w" d="M849,312.5 L870,304 L870.8,307 L849.8,315.5 Z"/>
<path class="w" d="M869.5,296.5 L875,293.5 L880,294.5 L886,296 L886,309 L880,310.5 L874,308.5 L869.5,307 Z"/>
<path class="o" d="M879,297 L879,310.5 M875,293.5 L875,297 L886,296.5 M882,301.5 L884,301.5 M869.5,298 L874,299 L874,308.5"/>
<circle class="o" cx="871.5" cy="300.5" r="1.3"/><circle class="o" cx="872" cy="304" r="1.3"/><circle class="o" cx="872.5" cy="307.5" r="1.2"/>
<path class="w" d="M833.5,312 L843,310 C846,310 848,311 849,313 L849.8,315.5 L841,318.5 L834,316 Z"/>
<path class="o" d="M836,314 L843,312.5 M840,312 C841,313.5 843,314 845,313.5"/>
<path class="w" d="M832.5,320.5 L845,316 C846.5,316 847.5,317 847,318.5 L834,323 C832,323 831.5,321.5 832.5,320.5 Z"/>
</g></g>
<g id="engine">
<path class="w" d="M262.4,382 L273.4,375.2 C280,373.5 285,373.4 289.7,373.7 C294,374 297,374.4 299.1,375.2 L307.5,378.4 L349.5,394.1 L351.6,396.2 L350.6,398.9 L344,402 L341,470 L338,482 L330,488 L300,490 L282,491 L262,495 L245,497 L240,492 L255,470 L258,440 L262.4,420 Z" stroke="#444"/>
<path class="g" d="M300,380 L346,397.5 L350.6,398.9 M262.4,382 L262.4,395"/>
<path class="g" d="M304,378.5 L301,384 M309,380.5 L306,386 M321,385 L318,390.5 M327,387.5 L324,393 M334,390 L331,395.5 M340,392.5 L337,397.5"/>
<path class="g" d="M272,376 C274,378 276,382 277,385 M290,374 L290,381"/>
<path class="g" d="M349,401.5 L325,412.5 M262.4,395 L268,405 L280,412"/>
<ellipse cx="284.5" cy="395" rx="17.9" ry="6" fill="none" stroke="#555" stroke-width="0.7"/>
<ellipse cx="283.5" cy="394.4" rx="13.5" ry="4.6" fill="none" stroke="#999" stroke-width="2.2"/>
<ellipse cx="283.2" cy="394.2" rx="11.6" ry="3.7" fill="#fff" stroke="#555" stroke-width="0.7"/>
<ellipse cx="313.7" cy="392.6" rx="6.3" ry="2.2" fill="none" stroke="#777" stroke-width="0.6"/>
<path class="gw" d="M284.9,394 L284.9,406 L291.1,406 L291.1,394 Z"/><ellipse class="gw" cx="288" cy="394" rx="3.1" ry="1.4"/>
<path class="gw" d="M279,382 L279,388 L285,388 L285,382 Z"/><ellipse class="gw" cx="282" cy="382" rx="3" ry="1.4"/>
<path class="gw" d="M303.8,388 L303.8,394 L308.2,394 L308.2,388 Z"/><ellipse class="gw" cx="306" cy="388" rx="2.2" ry="1.0"/>
<path class="gw" d="M260.4,388.8 L260.4,394.8 L266.6,394.8 L266.6,388.8 Z"/><ellipse class="gw" cx="263.5" cy="388.8" rx="3.1" ry="1.4"/>
<path class="gw" d="M316,384 L316,389 L320,389 L320,384 Z"/><ellipse class="gw" cx="318" cy="384" rx="2" ry="0.9"/>
<path class="g" d="M325,412 L325,454 M335.6,405 L336,440 M341,400 L341,470 M330,402 L330,412"/>
<ellipse class="o" cx="335.4" cy="444.3" rx="2.4" ry="4" stroke="#555"/>
<path class="g" d="M327,425 C325,430 327,436 331,438 L331,452"/>
<circle class="g" cx="340" cy="405" r="1.5"/><circle class="g" cx="345.5" cy="402" r="1.4"/><circle class="g" cx="333" cy="409" r="1.5"/>
<path class="g" d="M279,420 L296,414 L310,416 L316,425 L310,430 M300,425 C302,433 306,437 312,438 M290,432 L300,440 L310,440 L322,446 M279,445 L283,452 L300,455 L325,452"/>
<path class="g" d="M300,448 C301,444 306,442 310,444 L313,448 C312,451 306,452 302,451 Z"/>
<path class="g" d="M270,455 L290,452 M282,462 L338,457 M284,470 L339,463 M286,478 L338,473 M290,486 L336,481"/>
<path class="g" d="M294,455 L294,462 M298,454 C296,456 296,460 298,462 M312,452 L312,458 M318,451 C316,453 316,458 318,460 M325,451 L325,458 M330,450 C328,452 328,457 330,459"/>
<path class="g" d="M270,470 L270,486 M280,465 L280,490 M262,472 L262,490"/>
<path class="o" d="M273.6,440 L322,412.6 L351.2,398.6" stroke="#333"/>
<path class="o" d="M289.2,425.3 L322.3,409.7 L318.7,414.3 L296.6,430 L296,425" stroke="#444"/>
<path class="g" d="M318.7,414.3 L311,421 M322.3,409.7 L325,405 L330,404"/>
<circle class="g" cx="323.5" cy="411" r="2"/>
<path class="g" d="M273.6,440 L274,448 C276,451 280,450 282.8,448.3 L282,440 C280,437 276,437 273.6,440 Z"/>
<path class="g" d="M302,439 C301,437 304,436 307,436.5 L316,440 C318,441.5 317,444.5 314,444.6 L305,442 Z M277.3,412 L296.6,412 M277.3,416 L296.6,416 M296.6,412 L296.6,420"/>
<path class="g" d="M310.4,449 L310.4,459 M313.2,449 L313.2,459 M317.7,449 L317.7,459 M320.5,449 L320.5,459 M310.4,449 C311,447.5 312.5,447.5 313.2,449 M317.7,449 C318.4,447.5 319.8,447.5 320.5,449"/>
<path class="g" d="M325,412.5 L325,459 M337,413 L337,441 M329,418 L333,416 L336,420 L333,425 L329,424 Z"/>
<path class="g" d="M288,404 L288,412 M301,405 C305,402 310,402 313,404"/>
<path class="w" d="M204,405 L258,403 L268,411 L275,425 L276,480 L262,494 L225,498 L222,470 L200,440 Z"/>
<path class="o" d="M206.0,405.5 L263.0,413.9 C269.0,414.9 274.0,417.9 274.0,425.9 L274.0,488.0"/>
<path class="o" d="M207.0,408.4 L258.2,416.0 C264.2,417.0 269.2,420.0 269.2,428.0 L269.2,487.2"/>
<path class="o" d="M208.0,411.3 L253.4,418.1 C259.4,419.1 264.4,422.1 264.4,430.1 L264.4,486.4"/>
<path class="o" d="M209.0,414.2 L248.6,420.2 C254.6,421.2 259.6,424.2 259.6,432.2 L259.6,485.6"/>
<path class="o" d="M210.0,417.1 L243.8,422.3 C249.8,423.3 254.8,426.3 254.8,434.3 L254.8,484.8"/>
<path class="o" d="M211.0,420.0 L239.0,424.3 C245.0,425.3 250.0,428.3 250.0,436.3 L250.0,484.0"/>
<path class="o" d="M212.0,422.9 L234.2,426.4 C240.2,427.4 245.2,430.4 245.2,438.4 L245.2,483.2"/>
<path class="o" d="M213.0,425.8 L229.4,428.5 C235.4,429.5 240.4,432.5 240.4,440.5 L240.4,482.4"/>
<path class="w" d="M226.7,499.0 L226.7,478.3 C226.7,476.0 230.4,476.0 230.4,478.3 L230.4,498.7"/>
<path class="w" d="M230.6,498.6 L230.6,477.1 C230.6,474.8 234.3,474.8 234.3,477.1 L234.3,498.2"/>
<path class="w" d="M234.5,498.1 L234.5,475.9 C234.5,473.6 238.2,473.6 238.2,475.9 L238.2,497.8"/>
<path class="w" d="M238.4,497.6 L238.4,474.7 C238.4,472.4 242.1,472.4 242.1,474.7 L242.1,497.3"/>
<path class="w" d="M242.3,497.2 L242.3,473.5 C242.3,471.2 246.0,471.2 246.0,473.5 L246.0,496.9"/>
<path class="w" d="M246.2,496.8 L246.2,472.3 C246.2,470.0 249.9,470.0 249.9,472.3 L249.9,496.4"/>
<path class="w" d="M250.1,496.3 L250.1,471.1 C250.1,468.8 253.8,468.8 253.8,471.1 L253.8,496.0"/>
<path class="o" d="M226,498.5 L254,495.5"/>
<path class="w" d="M234,455 C234,449.5 241,447 248,448.5 C253,450 254,457 250,461 C245,464.5 236,462 234,455 Z"/>
<path class="w" d="M181.5,430 L186,425.5 L222,427 L228,434 L229,490 L225,496.5 L188,492.5 L181.5,485 Z"/>
<path class="o" d="M186,425.5 L190,432 L222,433.5 L228,434 M190,432 L190,490"/>
<path class="w" d="M183,436 C183,433.5 185,432 188,432 L213,433.5 C216,433.5 217,435 217,438 L217,478 C217,481 215,482.5 212,482.5 L188,481 C185,481 183.5,479.5 183.5,477 Z"/>
<path class="o" d="M185.5,440 L214.5,441 M185.5,474 L214.5,475.5"/>
<path class="o" d="M217,440 C219,440 220.5,441 220.5,444 L221,483 C221,486 219,487 217,487 L188,485.5"/>
<circle class="w" cx="220.1" cy="442" r="2.8"/><circle class="o" cx="220.1" cy="442" r="1.4"/>
<circle class="w" cx="185.1" cy="429.5" r="2.8"/><circle class="o" cx="185.1" cy="429.5" r="1.4"/>
<circle class="w" cx="184.3" cy="474.6" r="2.8"/><circle class="o" cx="184.3" cy="474.6" r="1.4"/>
<circle class="w" cx="220.1" cy="487.9" r="2.8"/><circle class="o" cx="220.1" cy="487.9" r="1.4"/>
<circle class="o" cx="179.5" cy="462" r="0.9"/>
<path class="w" d="M234.3,456.0 L292.6,478.2 L293.4,476.2 L235.1,454.0 Z" stroke-width="0.9"/>
<path d="M292.6,478.2 L293.4,476.2" stroke="#111" stroke-width="2"/>
<path class="w" d="M251.2,452.8 L308.5,474.0 L309.3,472.0 L252.0,450.8 Z" stroke-width="0.9"/>
<path d="M308.5,474.0 L309.3,472.0" stroke="#111" stroke-width="2"/>
<path d="M232.3,366.7 C229,364 225,363 220,362 C212,360 202,359 194,360.8 C187,363 183,368 181.4,376.2 C180.5,381 182,384 186,386.5 C190,388.5 195,390 198.3,395.3" fill="none" stroke="#222" stroke-width="3.2"/>
<path d="M232.3,366.7 C229,364 225,363 220,362 C212,360 202,359 194,360.8 C187,363 183,368 181.4,376.2 C180.5,381 182,384 186,386.5 C190,388.5 195,390 198.3,395.3" fill="none" stroke="#fff" stroke-width="1.6"/>
<path class="w" d="M193.6,397 C194,394.5 202,394 203.6,396.5 L203.3,417 L212,419 L213,428 L203,428.5 C198,428.5 193.5,426 192,422 Z"/>
<path class="o" d="M194,401 L203.6,401.5 M196,410 L204,411"/>
<path class="w" d="M209,417.5 L219.5,416.5 C222,416.5 223,419 223,422 C223,425.5 222,428 219.5,428.2 L209,428.5 Z"/>
<path class="o" d="M213,417 L213,428.5 M216,416.8 L216,428.3"/>
<circle cx="220" cy="422.5" r="0.8" fill="#111"/><path d="M220,422.5 L223,422.5" stroke="#111" stroke-width="0.7"/>
<path class="w" d="M232.3,362 L240,360 L245,361 L245,359 L250,358.5 L252,361 L251.4,376 L245,379.4 L233,377 Z"/>
<path class="o" d="M232.3,362 L238,365 L251.4,362.5 M238,365 L238,379"/>
<path class="w" d="M251.4,364 L262,362.5 L269,364.5 L270.4,369 L266,371.5 L262,369 L258,371 L252,374 Z"/>
<path class="o" d="M254,366 L262,364.5 L268,366"/>
<path class="w" d="M244,376 L251.4,375 L252,380 L245,381 Z"/>
<path class="w" d="M226,365 L232.5,364.5 L233,369 L227,369.5 Z"/>
<path d="M231.2,373 C224,377 218,381 217.4,388 C217,394 221,399.5 228,400.6 C234,401.5 240.7,399.5 245,395 C249,391 250.5,385 251.4,379.4" fill="none" stroke="#111" stroke-width="1.3"/>
<path class="g" d="M220,387 C222,386 224,389 226,391 L229,393 M233,389 L233,398 L237,398 L237,389 Z"/>
<path class="w" d="M144.6,429.7 L180.7,414.1 L182.5,417.7 L183,470 L183.5,477 L175,481.3 L170.8,482 L168,473 L164.4,472.8 L163.7,484.8 L151,480.6 L151,472 L149.6,455 L145.3,439.6 Z"/>
<path class="o" d="M146,433.2 L182,418 M146,433.2 L147,440 L152,439 L155,437 L157,441 L160,442 L163,440 L172,436 L176,433"/>
<path class="g" d="M148,441 L150,452 L151,458"/>
<path d="M165.5,445.5 L172,444" stroke="#333" stroke-width="1.8"/><circle cx="172.5" cy="444" r="2" fill="#fff" stroke="#222" stroke-width="1"/>
<circle class="o" cx="178.5" cy="462.5" r="1.2"/>
<path d="M173,412 L180,413.5" stroke="#333" stroke-width="1.8"/><circle cx="172.2" cy="411.5" r="1.9" fill="#333"/><circle cx="182.5" cy="413.5" r="2" fill="#fff" stroke="#222" stroke-width="1"/>
<path d="M129.5,473.2 L144,467" stroke="#222" stroke-width="4.2" stroke-linecap="round"/>
<path d="M130.5,472.8 L143.5,467.2" stroke="#777" stroke-width="1.8" stroke-dasharray="1,0.8"/>
<circle cx="128" cy="473" r="1.7" fill="#fff" stroke="#222" stroke-width="1"/>
<path class="w" d="M143.3,464.8 L147,463.6 L148.2,468.8 L144.5,470 Z"/>
<ellipse class="w" cx="150" cy="464.3" rx="2.8" ry="6.2" transform="rotate(-20 150 464.3)"/>
<path class="o" d="M149.5,459.5 L151.5,469"/>
<path class="w" d="M152,459 L158.5,456.8 L160.8,466.8 L154.5,469.5 Z"/>
<path class="w" d="M157,457.8 L163,455.6 C166,455.2 167.3,458 166.8,461 C166.3,464 165,465.8 163,466 L159.5,467.2 Z"/>
<ellipse cx="164.6" cy="460.6" rx="2.2" ry="4.3" transform="rotate(-20 164.6 460.6)" fill="#555" stroke="#222" stroke-width="1"/>
</g><g id="gov">
<!-- rod 21 -->
<path d="M333.3,373 L333.3,370 L412,334.5 L416.5,332.3" fill="none" stroke="#111" stroke-width="1.3"/>
<circle cx="415" cy="331.5" r="1.1" fill="#111"/>
<!-- spring 20 -->
<path d="M396,350.5 L410,343.5" stroke="#222" stroke-width="3.2" fill="none"/>
<path d="M396.5,350.5 L397.5,348 M398.3,349.7 L399.3,347.2 M400.1,348.8 L401.1,346.3 M401.9,347.9 L402.9,345.4 M403.7,347 L404.7,344.5 M405.5,346.1 L406.5,343.6 M407.3,345.2 L408.3,342.7" stroke="#fff" stroke-width="0.5"/>
<path class="o" d="M410,343.5 C412,342 412.5,340.5 410.5,340.5"/>
<!-- rod 22 -->
<path d="M349,425 L354,424 L403,408.6 L405.6,407.3" fill="none" stroke="#111" stroke-width="1.3"/>
<!-- rod 24 -->
<path d="M418,436 L421,434.5 L424,436 L428,438 L502,408.5" fill="none" stroke="#222" stroke-width="0.9"/>
<path class="w" d="M472,415.2 L502,406.6 L504,409 L474,418 Z"/>
<!-- lever 23 -->
<path class="w" d="M408.5,410 C409,408.5 411,408.3 411.5,409.5 L414.5,420 L417.5,432 L417.5,438 L420,438 L420,443 L416,443.5 L413,439.5 C409.5,440 407.5,437.5 407.5,434 L408,424 Z"/>
<path class="o" d="M410,411 L411.5,424 M409,424 C412,425 415,425.5 417,424.5"/>
<ellipse class="w" cx="411.5" cy="432.5" rx="2.8" ry="3.3"/>
<ellipse class="w" cx="403.7" cy="430.5" rx="2.2" ry="2.8"/>
<ellipse class="o" cx="403.7" cy="430.5" rx="1" ry="1.3"/>
<!-- screw near 24 -->
<path class="w" d="M434,440 L442,442.5 L441.5,445 L433.5,442.5 Z"/>
<ellipse class="w" cx="443.5" cy="444.5" rx="3.2" ry="3.8"/>
<path class="o" d="M436,440.8 L435.5,443.3 M438,441.5 L437.5,444"/>
<!-- governor bracket -->
<path class="w" d="M430.5,342.6 L446.4,338.1 L448,341 L456.6,339.5 L458,344 L456.6,357.3 L456.6,369.8 L449.8,377.7 L447,378 L446,385 L444,386 L441,381 L439,381.5 L439,394.7 L430.5,394.7 L430.5,378.8 L421.5,376.6 L405.7,378.8 L405.2,371 C405.5,369 406,368.6 406.8,368.6 L427.1,365.2 L427.7,346 Z"/>
<path class="o" d="M430.5,342.6 L431,366 L427.1,365.2 M431,366 L431,378.5 M432,378.5 L438,380 L438,386 L435,387 L435,391 L438,392"/>
<ellipse class="o" cx="410.7" cy="374.3" rx="1.8" ry="2.4"/>
<circle class="o" cx="434.5" cy="346.5" r="1.1"/><circle class="o" cx="434.5" cy="360" r="0.9"/>
<path class="g" d="M429,350 L429,376"/>
<!-- lever arm -->
<path class="w" d="M437.6,352 C437.6,349 440,347.5 443,347.5 C446.5,347.5 449.8,350 449.8,354 C449.8,357 447.5,358.5 445,359 L446,365 L448,368 L448,383 L446,385 L443,383 L442,374 L439.5,372 L438.5,362 Z"/>
<ellipse cx="444.8" cy="353.4" rx="4.6" ry="5.2" fill="#f2f2f2" stroke="#444" stroke-width="0.7"/>
<path class="o" d="M441,360 L442,372 M446,369 L447,371 L446,373"/>
<!-- top pin and small bracket -->
<path class="w" d="M449.8,336.5 L462,334.5 L464.5,337 L463,339.5 L455,341 L450,340 Z"/>
<path class="w" d="M454.3,325.5 L454.3,337 C454.3,338 456,338.5 458,338.5 C460,338.5 461.8,338 461.8,337 L461.8,325.5 Z"/>
<ellipse class="w" cx="458" cy="325.5" rx="3.8" ry="1.4"/>
<path class="w" d="M450.5,345 L459,342.5 L464.5,343 L464.5,348 L456,351 L451,350 Z"/>
<path class="o" d="M457,340 L457,345 M455.5,344 L459,343.5"/>
<path class="w" d="M452,356 L456.6,355 L456.6,362 L452,363 Z"/>
<!-- clip 19 -->
<path class="w" d="M461,375 L465.5,373.2 L467.9,375 L467.9,383 L463,384.5 L461.5,382 Z"/>
<path class="o" d="M463.5,377 L463.5,384 M465.5,376 L465.5,380"/>
<!-- screw -->
<path class="w" d="M469.6,380.5 L475,382.5 L474.5,384.7 L469.2,382.8 Z"/>
<ellipse class="w" cx="476.5" cy="384" rx="2.6" ry="2.1"/>
<!-- screw 25 -->
<path class="w" d="M414.7,381.5 L421.5,383.5 L420.8,386.5 L414,384.3 Z"/>
<ellipse class="w" cx="423.5" cy="385.5" rx="3.4" ry="3.6"/>
<path class="o" d="M416.5,382 L415.8,385 M418.5,382.6 L417.8,385.6"/>
<!-- bracket brace -->
<path d="M506.5,325 C509,326.5 511.5,328 511.5,331 L511.5,343.3 C511.5,345.5 514,347 517,348.2 C514,349.5 511.5,350.5 511.5,352.5 L511.5,366.6 C511.5,369.5 509,371.5 506.5,373.5" fill="none" stroke="#333" stroke-width="1"/>
</g>
<g id="intake">
<!-- gasket 37 -->
<path class="w" d="M304,478 C305,475 309,474 312,475 L318,473 C321,472.5 323,474 322.5,477 L322,486 C321.5,489 318,490.5 315,489.5 L309,489 C305,489 303,486 303.5,483 Z"/>
<ellipse class="o" cx="312.8" cy="481.8" rx="5" ry="5.8" transform="rotate(-20 312.8 481.8)"/>
<circle class="o" cx="305.5" cy="482" r="1.1"/><circle class="o" cx="320.3" cy="477" r="1.1"/>
<!-- spacer 38 -->
<path class="w" d="M318.5,487 C318,481.5 322,478.5 327,478 L336,477.5 C340,477.5 343,480 342.8,484 L342,491 C341.5,495 338,497.5 334,497.5 L327,497 L323,498.6 L319.5,496 Z"/>
<ellipse class="w" cx="332.5" cy="487" rx="6" ry="7" transform="rotate(-20 332.5 487)"/>
<ellipse class="o" cx="332.8" cy="487.3" rx="4.5" ry="5.5" transform="rotate(-20 332.8 487.3)"/>
<circle class="o" cx="323" cy="487" r="1"/><circle class="o" cx="339.5" cy="482" r="1"/>
<path class="o" d="M320,490 L320.5,496 L326,497.5"/>
<!-- gasket 39 left -->
<path class="w" d="M339.5,491 C340,487 344,485 348,485 L355,484.5 C358,484.5 359,486.5 358.5,489.5 L357.5,498 C357,501.5 354,503.5 350,503.5 L343.5,505 C340.5,505 339.3,502 339.3,499 Z"/>
<ellipse class="o" cx="349.5" cy="494.5" rx="5.3" ry="6.4" transform="rotate(-15 349.5 494.5)"/>
<circle class="o" cx="342" cy="494" r="1"/><circle class="o" cx="356.5" cy="489.5" r="1"/>
<!-- tube 27 -->
<path d="M344,475 C338,473 336,469.5 340.5,467.8 L378,454.3 C384.5,452 385.5,446 381,444 L369.5,444" fill="none" stroke="#222" stroke-width="4.2" stroke-linecap="butt"/>
<path d="M344,475 C338,473 336,469.5 340.5,467.8 L378,454.3 C384.5,452 385.5,446 381,444 L369.5,444" fill="none" stroke="#fff" stroke-width="2.4" stroke-linecap="butt"/>
<ellipse class="w" cx="344.2" cy="475" rx="1.6" ry="2.1"/>
<!-- baffle plate 40 -->
<path class="w" d="M358,489.8 L361,489 L407.8,473 L403,478.9 L403,518 L401,526.3 L369.8,536.4 L368.5,530.5 L365,528.5 L358.8,524 Z"/>
<path d="M361,489 L407.8,473" stroke="#222" stroke-width="1.8"/>
<path class="o" d="M361,491 L403,478.5 M361,491 L361,523 L365,527"/>
<!-- gasket 39 right -->
<path class="w" d="M380,505 C381,501.5 384,500 388,500 L396,499.9 C399,499.9 400.5,502 400,505 L399,513 C398.5,516.5 395,518 392,518 L385,520.9 C382,520.9 380.5,518 380.5,515 Z"/>
<ellipse class="o" cx="390" cy="509.5" rx="5.2" ry="6.5" transform="rotate(-15 390 509.5)"/>
<circle class="o" cx="383.2" cy="510" r="1"/><circle class="o" cx="397.5" cy="505" r="1"/>
<path class="o" d="M373,505 C372.5,501.5 376,500 378.5,501 C381,502 381,506 379,507.5 C377,509 373.5,508 373,505 Z"/>
<!-- fuel line 34 -->
<path d="M412.4,490.5 L443.5,475" stroke="#222" stroke-width="4" stroke-linecap="round"/>
<path d="M412.6,490.4 L443.3,475.1" stroke="#fff" stroke-width="2.2" stroke-linecap="round"/>
<!-- fuel filter 35 -->
<path class="w" d="M446.5,472 C446,470.5 447,469 449,468.5 L453,466.5 L455.5,470.5 L451,473.5 C449,474.8 447,474 446.5,472 Z"/>
<ellipse class="o" cx="447.6" cy="472.6" rx="1.2" ry="1.6" transform="rotate(-30 447.6 472.6)"/>
<path class="w" d="M459,461 L464,455.5 C465.5,454.5 467,456 466.3,457.5 L461.5,464 Z"/>
<path class="o" d="M462,458 L464.3,460"/>
<ellipse cx="455.5" cy="465.9" rx="3.9" ry="7.4" transform="rotate(-43 455.5 465.9)" fill="#fff" stroke="#111" stroke-width="1.8"/>
<ellipse cx="456.5" cy="465" rx="2.6" ry="6" transform="rotate(-43 456.5 465)" fill="none" stroke="#444" stroke-width="0.9" stroke-dasharray="0.8,0.6"/>
<path d="M453,469 L457,465.5" stroke="#555" stroke-width="0.7"/>
<!-- carburetor 26 -->
<path class="w" d="M404.7,534 L404.7,541 C405.5,544 411,545.3 416,545.3 C422,545.3 426.5,544 426.8,541 L426.8,534 Z"/>
<path class="o" d="M405,536.5 C408,539 412,540 416,540 C421,540 425,539 426.8,537"/>
<path class="o" d="M414,545.3 L415,547 L419,547 L420,545.2"/>
<path class="w" d="M396,516 L398,511.5 L405,509 L406.5,503 L406,496 L411,494.5 L414,495.5 L416.5,498 L417.6,506 L424,506 L432,506.5 L440,508.5 L442.4,513 L441,521.8 L434.1,532.8 L426,535.5 L412,535.5 L405,533 L400,527 L396,522 Z"/>
<path class="o" d="M406.5,503 C408,504.5 411,505 414,504.5 L417.6,503.5 M411,494.5 L411.5,504.8 M414.5,495.5 L414.5,504.5"/>
<path d="M407.2,509 C408.5,506.8 412,506.8 413.5,509.2 L414,513.5 C413,515.5 409,516 407.5,514 Z" fill="#2a2a2a"/>
<path class="o" d="M405,509 L405,515.5 C406,517.5 412,518 416,516.5 L416,508"/>
<path class="o" d="M396.9,494 L406,497.5 M397.5,492.8 C396,493 396,495.5 397.5,495.8"/>
<circle cx="404.5" cy="496.8" r="1.3" fill="#333"/>
<path class="o" d="M396,516 C393,518 394,522 398,522.5 L405,521.5 M398,511.5 L405.5,513"/>
<path class="o" d="M399.5,520 C401,518.5 403.5,518.5 404,520.5"/>
<path class="o" d="M401,527 L414,524.5 M402.5,531 L414,530 M408,524.5 L411,524"/>
<path class="w" d="M414.8,520.5 C415,518 417.5,516.5 421,516.3 L431,516.2 C433.5,516.3 434.5,518 434.3,520.5 L434.1,528.5 C434,531 432,532.8 428.5,532.8 L419,532.8 C416.5,532.8 414.8,531 414.8,528.5 Z"/>
<path class="o" d="M420,520 C421,518.5 424,518 427,518.5 L430,519 C432,520 432,523 431.5,526 C431,529 429,530.5 426,530.5 L422,530 C420,529.5 419.5,527.5 419.5,525 Z"/>
<circle cx="427.2" cy="521.3" r="1.5" fill="#222"/><circle cx="427.2" cy="528.2" r="1.5" fill="#222"/>
<circle class="o" cx="420.5" cy="523" r="0.9"/>
<path class="o" d="M424,506 L426,503.5 L430,503 L432.5,505 L432,507.5 M427,504.5 L429,506.5"/>
<path class="o" d="M433,507 L437,505 L441,507.5 L442.4,511 M434,511 L440,510 L441.5,514 M436,515 L441,518"/>
<path class="o" d="M433,510.5 C432,512.5 433,514 435,514 C437,514 437.5,512 436.5,510.5 Z"/>
<path d="M413.5,531 L416,533 M412,513 L418,514" stroke="#333" stroke-width="0.8"/>
<path d="M425,509 C426,507 429,506.5 431,508 L433,511 C432.5,513 430,514 428,513 Z" fill="none" stroke="#222" stroke-width="1"/>
<path d="M434.5,512 L440,511 L441.5,514.5 L436,516" fill="none" stroke="#222" stroke-width="1"/>
<path d="M436,505 C438,504 440,505 440,507 M426,512 L424,515 M430,514 L433,517" fill="none" stroke="#333" stroke-width="0.9"/>
<circle cx="437.5" cy="514" r="1" fill="#222"/>
<path d="M407.5,500 L409,499.5 L410,503 L408.5,503.5 Z M412.5,499 L414,498.5 L414.8,502.5 L413.3,503 Z" fill="#333"/>
<path d="M404,521 C402,522 401,525 403,526.5 L407,526 L408,522 Z" fill="none" stroke="#222" stroke-width="0.9"/>
<path d="M406,530 L410,531.5 L412,535.2" fill="none" stroke="#222" stroke-width="0.9"/>
<!-- gasket 32 -->
<path class="w" d="M436,528 C435.5,524.5 438,522 441.5,521.5 L452,519.6 C455.5,519.5 457.5,521.5 457.2,525 L456,533 C455.5,536 452.5,538 449,538.2 L441,539.5 C437.5,540 435.6,537.5 435.8,534 Z"/>
<path class="o" d="M440.5,528 C441,525 444,524 447,524 L451,523.5 C453,523.5 454,525 453.5,527 L452.5,532 C452,534 450,535 447,535 L443,535.5 C441,535.5 440,534 440.2,532 Z"/>
<circle class="o" cx="438" cy="532" r="0.9"/><circle class="o" cx="454.5" cy="522.5" r="0.9"/>
<path d="M452.5,535 L466,539" stroke="#444" stroke-width="0.8" stroke-dasharray="2,1.5"/>
<!-- adapter 28 -->
<path class="w" d="M466,531 L466,546 C467,549 472,550 479,550 L494,549 C497,548 498,546 498,543 L498,535 L496.4,528.4 L496.4,521 L468.4,521 L468.4,528.4 Z"/>
<path class="w" d="M468.4,520 L468.4,527 C469,530 475,531.5 482.4,531.5 C490,531.5 496,530 496.4,527 L496.4,520 Z"/>
<ellipse class="w" cx="482.4" cy="519.8" rx="14" ry="4.6"/>
<ellipse cx="482.4" cy="520" rx="11.5" ry="3.5" fill="#eee" stroke="#222" stroke-width="0.8"/>
<path class="o" d="M468.4,523.5 C470,526.5 476,528 482.4,528 C489,528 495,526.5 496.4,523.5 M468.4,525.5 C470,528.5 476,530 482.4,530 C489,530 495,528.5 496.4,525.5"/>
<path class="w" d="M463.6,531 L474,529.2 L479.6,531.5 L479.6,535.6 L468,537 L463.6,535 Z"/>
<path class="w" d="M472,536 L480,535 C483,535 484.5,537.5 484.5,541 C484.5,544.5 483,546.5 480,546.5 L472,547.5 Z"/>
<ellipse class="o" cx="477.5" cy="541" rx="1.5" ry="2.5"/>
<path class="w" d="M492,535 L496,534.5 C498.5,534.5 499,537 499,539.5 C499,542 498,543.5 496,543.5 L492,543.8 Z"/>
<ellipse class="o" cx="495.5" cy="539" rx="1.1" ry="1.9"/>
<!-- nuts 33 -->
<ellipse cx="499.6" cy="550" rx="3.2" ry="3.2" fill="#fff" stroke="#222" stroke-width="1"/>
<ellipse cx="499.6" cy="550" rx="1.5" ry="1.5" fill="#333"/>
<ellipse cx="512.8" cy="546.8" rx="3.4" ry="3.2" fill="#fff" stroke="#222" stroke-width="1"/>
<ellipse cx="512.8" cy="546.8" rx="1.6" ry="1.5" fill="#333"/>
</g>
<g id="bag47">
<path class="w" d="M293.5,651.2 C302,646 311,641 320.3,636.6 C330,641 339,645.5 347.8,650 C338,655 328,660 319.1,665.3 C310,660.5 301.5,656 293.5,651.2 Z"/>
<path class="o" d="M320.5,639 C329.5,643 337.5,647.5 345.5,652"/>
<path class="o" d="M296,651 C302,649 307,647 311,645" stroke-width="0.6"/>
<path class="o" d="M308,659 L316,662.5 M326,659.5 L336,654" stroke-width="0.6"/>
<g class="g">
<path d="M307,651 C307,646.5 312,643.5 318,643.5 C324,643.5 327,646 327,649 L327,655 C327,658 322,660 316,660 C310,660 307,658 307,655 Z"/>
<path d="M307,651 C308,654 312,655.5 317,655.5 C322,655.5 326,654 327,651"/>
<path d="M313,648 C315,646.5 320,646.5 322,648"/>
<path d="M327,655 L333,652"/>
</g>
<path class="o" d="M348.4,650.6 L366.1,651.3 M348.4,650.6 L366.1,656.1"/>
<rect class="o" x="365.5" y="632.3" width="41.5" height="42.1" rx="4.9" ry="4.9"/>
<path class="w" d="M369.5,650.5 L369.5,658 C369.5,661.5 375,664 382,664 C389,664 394.5,661.5 394.5,658 L394.5,650.5 Z"/>
<ellipse class="w" cx="382" cy="650.5" rx="12.5" ry="5.4"/>
<path class="o" d="M374,650.8 C374,648.5 378,647.2 382.5,647.2 C387,647.2 391,648.5 391,650.8 C391,653 387,654.3 382.5,654.3 C378,654.3 374,653 374,650.8 Z"/>
<path d="M375.5,645.8 L378.5,645.3 L379,648 L376,648.6 Z" fill="#fff" stroke="#222" stroke-width="0.8"/>
<path class="o" d="M369.5,652.5 C371,656 376,658 382,658 C386,658 389,657.5 391,656.5"/>
<path d="M386.5,657 L392,656 L393.5,660 L392,663.5 L387.5,664 Z" fill="#333" stroke="#222" stroke-width="0.8"/>
<circle cx="390" cy="660" r="1.5" fill="#fff" stroke="#222" stroke-width="0.8"/>
<path d="M395.8,659.3 L403.3,655.8" stroke="#333" stroke-width="2.4"/>
<path d="M397,659.3 L398,657.2 M398.5,658.7 L399.5,656.6 M400,658 L401,655.9 M401.5,657.4 L402.5,655.3" stroke="#bbb" stroke-width="0.4"/>
</g>
<g id="bag48">
<path class="w" d="M419.3,658.2 C427,653.5 435,649 443.1,644.6 C451.5,648.5 460,652.5 467.9,657 C460,661.5 451.5,666.5 443.1,671.2 C435,666.5 427,662.5 419.3,658.2 Z"/>
<path class="o" d="M443.5,647 C451.5,650.5 459,654.5 465.5,658.3"/>
<ellipse class="g" cx="440.5" cy="658.5" rx="13.5" ry="4.8"/>
<path class="g" d="M435,657 C437,655 440,655.5 439,658 M443,659 C445,656.5 449,656.5 448,659.5 M436,660 L441,661"/>
<path class="o" d="M425,660 L432,663.5 M449,665 L458,661" stroke-width="0.6"/>
<path class="o" d="M468.5,657 L479.8,658.2 M468.5,657 L479.8,660.4"/>
<rect class="o" x="479.8" y="642.3" width="37.8" height="32.2" rx="4.2" ry="4.2"/>
<ellipse cx="498.6" cy="660.4" rx="16.8" ry="5.3" fill="none" stroke="#111" stroke-width="1.5"/>
<path class="w" d="M492,645.5 C492,644.5 495,644.5 495,645.5 L495.3,649.5 L493.6,651.5 L492,649.5 Z"/>
<path d="M493.6,651 L493.6,652.5" stroke="#222" stroke-width="1"/>
<path d="M501.5,652 L514,647.5" stroke="#444" stroke-width="1.8"/>
<path d="M502.5,651.8 L503.3,650.1 M504.5,651 L505.3,649.3 M506.5,650.3 L507.3,648.6 M508.5,649.6 L509.3,647.9 M510.5,648.9 L511.3,647.2" stroke="#ccc" stroke-width="0.4"/>
<ellipse cx="495" cy="669.4" rx="3.8" ry="1.7" fill="#333"/>
<ellipse cx="495" cy="669.2" rx="1.5" ry="0.6" fill="#888"/>
<ellipse cx="504.3" cy="670.6" rx="4.2" ry="1.8" fill="#333"/>
<ellipse cx="504.3" cy="670.4" rx="1.6" ry="0.6" fill="#888"/>
</g>

<g class="ld">
<polyline points="132.8,41.8 125.2,41.8 116.0,55.0"/>
<polyline points="365.4,45.5 357.5,45.5 348.0,57.9"/>
<polyline points="399.0,81.8 391.0,81.8 382.0,95.8"/>
<polyline points="468.6,79.0 459.7,79.0 450.7,92.0"/>
<polyline points="352.0,165.0 360.0,165.0 367.5,153.9"/>
<polyline points="412.6,181.0 421.5,181.0 427.8,169.7"/>
<polyline points="181.5,170.7 189.4,170.7 197.0,159.9"/>
<polyline points="134.4,170.0 126.0,170.0 117.0,183.0"/>
<polyline points="305.0,189.0 300.0,189.0 289.0,202.5"/>
<polyline points="252.0,210.0 271.0,212.5"/>
<polyline points="344.0,233.0 335.0,233.0 324.5,247.5"/>
<polyline points="344.0,271.0 335.0,271.0 326.0,282.5"/>
<polyline points="676.0,60.4 683.9,60.4 691.4,73.0"/>
<polyline points="640.3,69.6 649.0,69.6 655.0,84.5"/>
<polyline points="604.0,110.9 611.0,110.9 622.8,127.4"/>
<polyline points="882.0,110.9 873.6,110.9 865.4,127.4"/>
<polyline points="784.5,160.4 776.0,160.4 764.7,150.5"/>
<polyline points="666.9,229.5 673.9,229.5 687.9,251.2"/>
<polyline points="691.0,223.2 698.8,223.2 706.6,238.8"/>
<polyline points="630.4,290.2 637.4,290.2 653.7,313.5"/>
<polyline points="898.0,281.4 891.0,281.4 881.0,293.3"/>
<polyline points="811.0,338.2 801.0,338.2 787.8,326.7"/>
<polyline points="430.4,322.0 420.8,322.0 417.2,331.2"/>
<polyline points="385.3,366.7 390.8,366.7 396.3,351.6"/>
<polyline points="399.2,392.4 406.4,392.4 414.8,382.8"/>
<polyline points="366.0,410.4 357.2,410.4 359.6,421.2"/>
<polyline points="437.6,410.9 428.0,410.9 415.5,422.4"/>
<polyline points="513.2,397.2 504.8,397.2 497.6,405.6"/>
<polyline points="142.6,372.2 181.0,375.0"/>
<polyline points="130.7,414.4 138.1,414.4 146.6,427.2"/>
<polyline points="150.4,495.4 144.8,495.4 135.0,475.8"/>
<polyline points="256.8,508.9 265.2,508.9 279.2,477.2"/>
<polyline points="292.0,507.0 298.8,507.0 308.6,487.0"/>
<polyline points="308.9,518.5 317.0,518.5 327.8,498.3"/>
<polyline points="379.6,472.6 372.0,472.6 361.0,464.0"/>
<polyline points="471.4,483.4 462.8,483.4 456.0,471.3"/>
<polyline points="448.0,498.3 439.8,498.3 427.7,488.8"/>
<polyline points="514.0,511.8 506.0,511.8 495.2,524.0"/>
<polyline points="530.8,530.2 523.5,530.2 513.5,545.5"/>
<polyline points="318.3,532.8 325.0,532.8 341.3,503.7"/>
<polyline points="341.3,541.0 349.4,541.0 358.8,525.3"/>
<polyline points="369.1,556.3 377.0,556.3 383.1,522.6"/>
<polyline points="396.1,564.4 403.4,564.4 408.8,544.7"/>
<polyline points="438.5,573.3 445.2,573.3 445.2,540.1"/>
<polyline points="306.6,623.0 313.6,623.0 323.4,635.6"/>
<polyline points="428.4,631.4 435.4,631.4 445.2,644.0"/>
<polyline points="509.0,332.4 490.2,332.4 465.9,349.7"/>
<polyline points="497.6,349.7 490.7,349.7 466.9,373.5"/>
<polyline points="509.0,362.6 490.2,362.6 472.8,380.5"/>
</g>
<g class="lb">
<text x="135" y="43.0">45</text>
<text x="367.6" y="46.1">1</text>
<text x="400.6" y="83.6">2</text>
<text x="469.8" y="80.5">31</text>
<text x="345" y="166">3</text>
<text x="399.8" y="182">30</text>
<text x="174.8" y="171.8">5</text>
<text x="136" y="171">46</text>
<text x="309" y="190.5">6</text>
<text x="245.5" y="212">7</text>
<text x="345.5" y="234">8</text>
<text x="345.5" y="272.5">9</text>
<text x="666" y="62">11</text>
<text x="628.7" y="72.2">10</text>
<text x="593" y="114">16</text>
<text x="883.5" y="113.5">17</text>
<text x="786" y="162">12</text>
<text x="656.5" y="230">11</text>
<text x="680" y="226">10</text>
<text x="617.9" y="292">16</text>
<text x="899.7" y="283">17</text>
<text x="812.6" y="340">12</text>
<text x="434" y="320.4">21</text>
<text x="374" y="369">20</text>
<text x="500" y="351.2">19</text>
<text x="520" y="349.8">18</text>
<text x="387.2" y="393.6">25</text>
<text x="368" y="410.9">22</text>
<text x="438.8" y="412.3">23</text>
<text x="514.9" y="398.4">24</text>
<text x="130.4" y="373.2">13</text>
<text x="118.2" y="415">42</text>
<text x="151.8" y="499">15</text>
<text x="244.2" y="509.4">36</text>
<text x="279.2" y="508.6">37</text>
<text x="296.7" y="519.4">38</text>
<text x="381.8" y="474">27</text>
<text x="473" y="484.3">35</text>
<text x="449.3" y="498.3">34</text>
<text x="516.2" y="513.1">28</text>
<text x="532.4" y="530.7">33</text>
<text x="306.2" y="533.4">39</text>
<text x="329.1" y="541.5">40</text>
<text x="357" y="557.1">39</text>
<text x="384" y="565.8">26</text>
<text x="426.3" y="574.7">32</text>
<text x="294" y="623.8">47</text>
<text x="416.7" y="632.2">48</text>
</g>
</svg>
</body></html>
